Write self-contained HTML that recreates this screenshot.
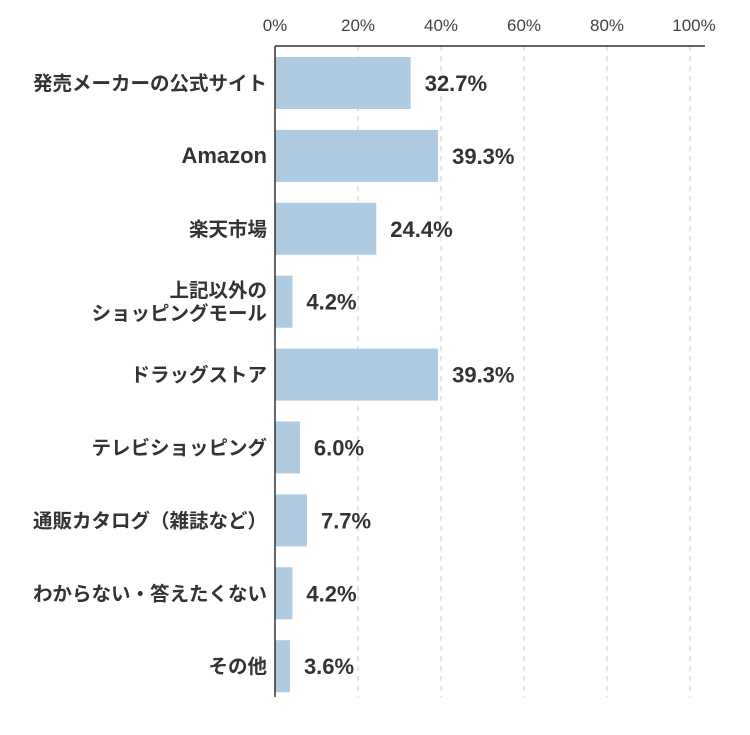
<!DOCTYPE html>
<html><head><meta charset="utf-8"><style>
body{margin:0;background:#fff;}
svg text{font-family:"Liberation Sans","Noto Sans CJK JP",sans-serif;}
</style></head><body>
<svg id="chart" width="750" height="730" xmlns="http://www.w3.org/2000/svg"></svg>
<script>
const categories = [["発売メーカーの公式サイト"],["Amazon"],["楽天市場"],["上記以外の","ショッピングモール"],["ドラッグストア"],["テレビショッピング"],["通販カタログ（雑誌など）"],["わからない・答えたくない"],["その他"]];
const values = [32.7,39.3,24.4,4.2,39.3,6.0,7.7,4.2,3.6];
const ticks = [0,20,40,60,80,100];
const tickLabels = ["0%","20%","40%","60%","80%","100%"];

const svg = document.getElementById('chart');
const NS = 'http://www.w3.org/2000/svg';
const x0 = 275, pxPer = 4.15, top0 = 57, pitch = 72.9, bh = 52;
const xs = v => x0 + v * pxPer;
const ys = i => top0 + i * pitch;
function mk(tag, attrs, parent){const e=document.createElementNS(NS,tag);for(const k in attrs)e.setAttribute(k,attrs[k]);(parent||svg).appendChild(e);return e;}

ticks.forEach((t,i)=>{
  if(t>0){
    const g = mk('line',{x1:xs(t),x2:xs(t),y1:46,y2:697,stroke:'#ccc','stroke-dasharray':'5,5','stroke-width':1});
    
    
  }
  const tl = mk('text',{x:xs(t)+(t===100?4:0),y:31,'text-anchor':'middle','font-size':17,fill:'#444'});
  tl.textContent = tickLabels[i];
  
  
});

values.forEach((v,i)=>{
  const b = mk('rect',{x:x0,y:ys(i),width:v*pxPer,height:bh,fill:'#aecbe2'});
  
  
  const vl = mk('text',{x:xs(v)+14,y:ys(i)+bh/2+8,'font-size':22,'font-weight':'bold',fill:'#333'});
  vl.textContent = v.toFixed(1)+'%';
  
  
  const lines = categories[i];
  lines.forEach((s,j)=>{
    const latin = /^[A-Za-z]+$/.test(s);
    const cy = ys(i)+bh/2+7 + (j - (lines.length-1)/2)*23;
    const cl = mk('text',{x:267,y:cy,'text-anchor':'end','font-size':latin?22:19.5,'font-weight':'bold',fill:'#333'});
    cl.textContent = s;
    
    
  });
});

const ax = mk('line',{x1:x0,x2:x0,y1:46,y2:697,stroke:'#333','stroke-width':1.5});


const tx = mk('line',{x1:x0,x2:705,y1:46,y2:46,stroke:'#333','stroke-width':1.5});


</script>
</body></html>
